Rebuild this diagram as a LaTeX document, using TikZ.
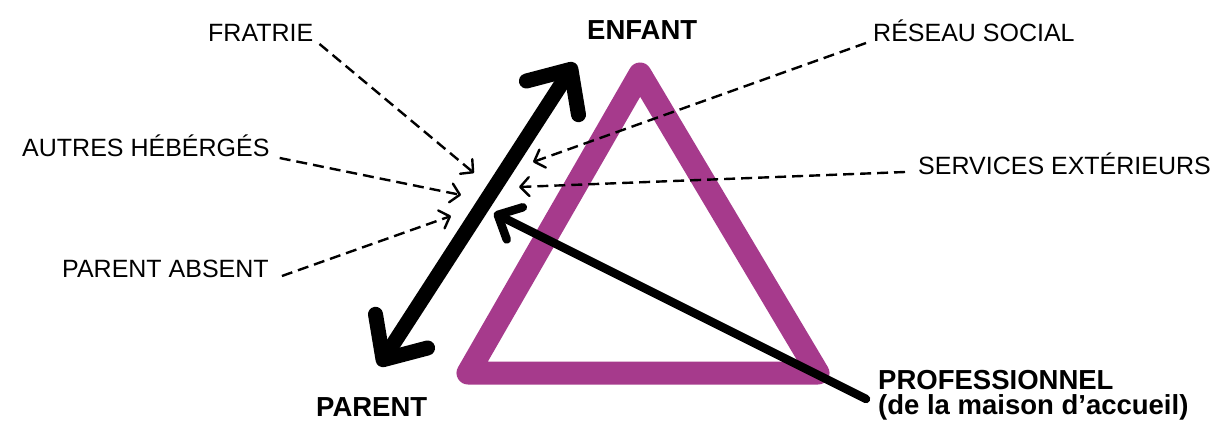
\documentclass[tikz,border=0pt]{standalone}
\usepackage{fontspec}
\setmainfont{Liberation Sans}
\usetikzlibrary{arrows.meta}
\definecolor{tripink}{RGB}{166,58,140}
\tikzset{
  lbl/.style={anchor=base west, inner sep=0pt, font=\fontsize{25}{28}\selectfont},
  blbl/.style={anchor=base west, inner sep=0pt, font=\fontsize{27.5}{30}\selectfont\bfseries},
  dasharrow/.style={line width=2.4pt, dash pattern=on 11pt off 6pt, -{Straight Barb[length=9pt,width=19pt,round]}},
}
\begin{document}
\begin{tikzpicture}[x=1pt,y=-1pt]
\useasboundingbox (0,0) rectangle (1214,422);
% triangle
\coordinate (ta) at (640,74);
\coordinate (tl) at (468,373);
\coordinate (tr) at (818,373);
\draw[tripink, line width=23pt, line join=round] (ta) -- (tl) -- (tr) -- cycle;
% labels
\node[lbl] (fratrie) at (208,42) {FRATRIE};
\node[lbl] (autres) at (22,157) {AUTRES HÉBÉRGÉS};
\node[lbl] (absent) at (62,277) {PARENT ABSENT};
\node[lbl] (reseau) at (873,42) {RÉSEAU SOCIAL};
\node[lbl] (services) at (918,175) {SERVICES EXTÉRIEURS};
\node[blbl] (enfant) at (587,40) {ENFANT};
\node[blbl] (parent) at (316,416) {PARENT};
\node[blbl] (pro) at (878,389) {PROFESSIONNEL};
\node[blbl] (pro2) at (878,414) {(de la maison d’accueil)};
% double arrow
\coordinate (dbot) at (379,366);
\coordinate (dtop) at (575,63);
\draw[line width=15pt, line cap=round, {Straight Barb[length=34pt,width=62pt,round]}-{Straight Barb[length=34pt,width=62pt,round]}] (dbot) -- (dtop);
% professional arrow
\coordinate (proend) at (866,399);
\coordinate (protip) at (494,213);
\draw[line width=8.5pt, line cap=round, -{Straight Barb[length=19pt,width=36pt,round]}] (proend) -- (protip);
% dashed arrows
\coordinate (tfr) at (474,173);
\coordinate (tau) at (461,195);
\coordinate (tab) at (451,216);
\coordinate (tre) at (533,162);
\coordinate (tse) at (519,187);
\draw[dasharrow] ([shift={(6,2)}]fratrie.base east) -- (tfr);
\draw[dasharrow] ([shift={(10,1)}]autres.base east) -- (tau);
\draw[dasharrow] ([shift={(13,-1)}]absent.base east) -- (tab);
\draw[dasharrow] ([shift={(-7,1)}]reseau.base west) -- (tre);
\draw[dasharrow] ([shift={(-13,-3)}]services.base west) -- (tse);
\end{tikzpicture}
\end{document}
